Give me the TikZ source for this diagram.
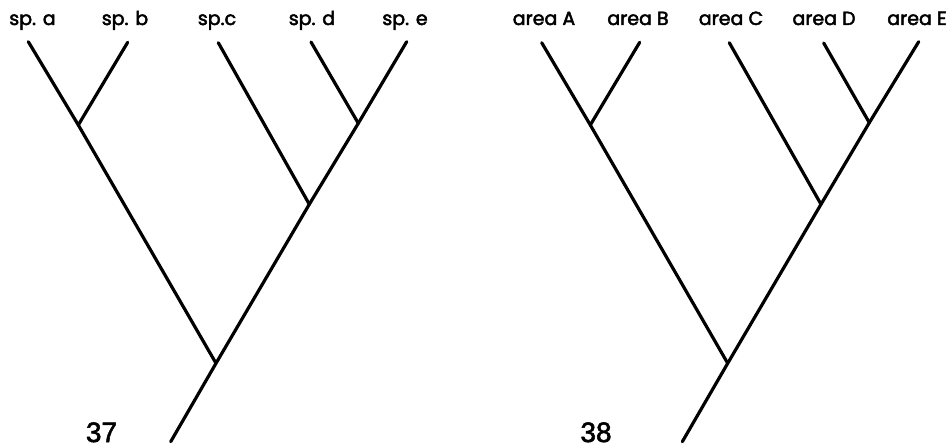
\documentclass[tikz,border=0pt]{standalone}
\usepackage{fontspec}
\setmainfont{Poppins}
\newfontfamily\labelfont[FakeBold=2.5]{Poppins}
\newfontfamily\numfont[FakeBold=2]{Liberation Sans}

\begin{document}
\begin{tikzpicture}[x=0.5pt,y=-0.5pt]
			\tikzstyle{branch} = [line width=1.6pt, line cap=round]
			\tikzstyle{taxon} = [anchor=base, inner sep=0pt, font=\fontsize{9.5}{11}\labelfont]
			\tikzstyle{fignum} = [anchor=base, inner sep=0pt, font=\fontsize{14}{16}\numfont]
			\useasboundingbox (0,0) rectangle (951,448);
			
			% cladogram of species
			\node [taxon] (sa) at (32.5,25) {sp. a};
			\node [taxon] (sb) at (125,25) {sp. b};
			\node [taxon] (sc) at (217,25) {sp.c};
			\node [taxon] (sd) at (312,25) {sp. d};
			\node [taxon] (se) at (405,25) {sp. e};
			\node [fignum] (n37) at (101.5,442) {37};
			
			\coordinate (A1) at (28.3,41.7);
			\coordinate (B1) at (127.7,42.3);
			\coordinate (C1) at (218.3,42.7);
			\coordinate (D1) at (311,42);
			\coordinate (E1) at (406.7,41.7);
			\coordinate (AB1) at (78.3,125);
			\coordinate (DE1) at (358.3,123.3);
			\coordinate (CDE1) at (309.3,204.3);
			\coordinate (R1) at (216,363.3);
			\coordinate (S1) at (170.7,441.7);
			
			\draw [branch] (A1) -- (AB1) -- (R1);
			\draw [branch] (B1) -- (AB1);
			\draw [branch] (C1) -- (CDE1);
			\draw [branch] (D1) -- (DE1);
			\draw [branch] (E1) -- (DE1) -- (CDE1) -- (R1) -- (S1);
			
			% cladogram of areas
			\node [taxon] (aa) at (544,25) {area A};
			\node [taxon] (ab) at (638,25) {area B};
			\node [taxon] (ac) at (731,25) {area C};
			\node [taxon] (ad) at (824,25) {area D};
			\node [taxon] (ae) at (917,25) {area E};
			\node [fignum] (n38) at (596,442) {38};
			
			\coordinate (A2) at (541.7,42.7);
			\coordinate (B2) at (639.7,42.3);
			\coordinate (C2) at (729.3,42.7);
			\coordinate (D2) at (823.7,43);
			\coordinate (E2) at (918.7,41.7);
			\coordinate (AB2) at (590.3,125);
			\coordinate (DE2) at (869.3,122.7);
			\coordinate (CDE2) at (821,204.3);
			\coordinate (R2) at (727.7,363.3);
			\coordinate (S2) at (682.3,441.7);
			
			\draw [branch] (A2) -- (AB2) -- (R2);
			\draw [branch] (B2) -- (AB2);
			\draw [branch] (C2) -- (CDE2);
			\draw [branch] (D2) -- (DE2);
			\draw [branch] (E2) -- (DE2) -- (CDE2) -- (R2) -- (S2);
			
\end{tikzpicture}
\end{document}
